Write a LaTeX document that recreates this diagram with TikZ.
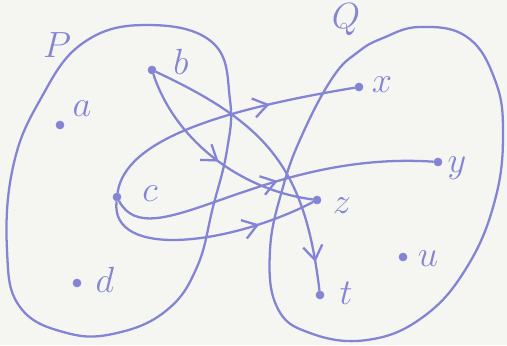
\documentclass[tikz,border=0pt]{standalone}
\usepackage{tikz}
\usetikzlibrary{positioning, calc, arrows.meta, decorations.markings}

\definecolor{pen}{RGB}{132,132,212}
\definecolor{paper}{RGB}{245,245,242}

\tikzset{
  dot/.style={circle, fill=pen, draw=pen, inner sep=0pt, minimum size=4.5pt},
  lab/.style={text=pen, font=\huge, anchor=base, inner sep=0pt},
  setline/.style={pen, line width=1.3pt},
  mapto/.style={pen, line width=1.3pt, postaction={decorate},
    decoration={markings, mark=at position #1 with {\arrow{Straight Barb[length=8pt, width=11pt]}}}},
  mapto/.default=0.5
}

\begin{document}
\begin{tikzpicture}[x=0.02cm, y=-0.02cm]
    % Paper
    \fill[paper] (0,0) rectangle (507,345);
    \useasboundingbox (0,0) rectangle (507,345);

    % The two sets
    \draw[setline] plot[smooth cycle, tension=0.7] coordinates {(147,25) (213,43) (230,100) (227,150) (213,207) (197,267) (167,310) (117,333) (67,333) (20,307) (7,250) (13,167) (40,100) (83,43)};
    \draw[setline] plot[smooth cycle, tension=0.7] coordinates {(383,38) (420,27) (467,37) (495,80) (503,133) (495,200) (467,267) (423,317) (367,340) (310,333) (277,307) (270,250) (283,187) (303,133) (333,77) (358,52)};
    \node[lab] (P) at (57,57) {$P$};
    \node[lab] (Q) at (346,28) {$Q$};

    % Points of P
    \node[dot] (a) at (60,125) {};
    \node[dot] (b) at (152,70) {};
    \node[dot] (c) at (117,197) {};
    \node[dot] (d) at (77,283) {};
    \node[lab] (la) at (82,116) {$a$};
    \node[lab] (lb) at (181,74) {$b$};
    \node[lab] (lc) at (150,201) {$c$};
    \node[lab] (ld) at (105,292) {$d$};

    % Points of Q
    \node[dot] (x) at (359,87) {};
    \node[dot] (y) at (438,162) {};
    \node[dot] (z) at (317,200) {};
    \node[dot] (t) at (320,295) {};
    \node[dot] (u) at (403,257) {};
    \node[lab] (lx) at (382,92) {$x$};
    \node[lab] (ly) at (457,172) {$y$};
    \node[lab] (lz) at (342,213) {$z$};
    \node[lab] (lt) at (346,304) {$t$};
    \node[lab] (lu) at (428,266) {$u$};

    % The map
    \draw[mapto=0.52] (b) .. controls (175,140) and (240,190) .. (z);
    \draw[mapto=0.9] (b) .. controls (270,125) and (305,170) .. (t);
    \draw[mapto=0.68] (c) .. controls (125,140) and (220,110) .. (x);
    \draw[mapto=0.52] (c) .. controls (150,260) and (260,150) .. (y);
    \draw[mapto=0.74] (c) .. controls (110,260) and (230,245) .. (z);

\end{tikzpicture}
\end{document}
